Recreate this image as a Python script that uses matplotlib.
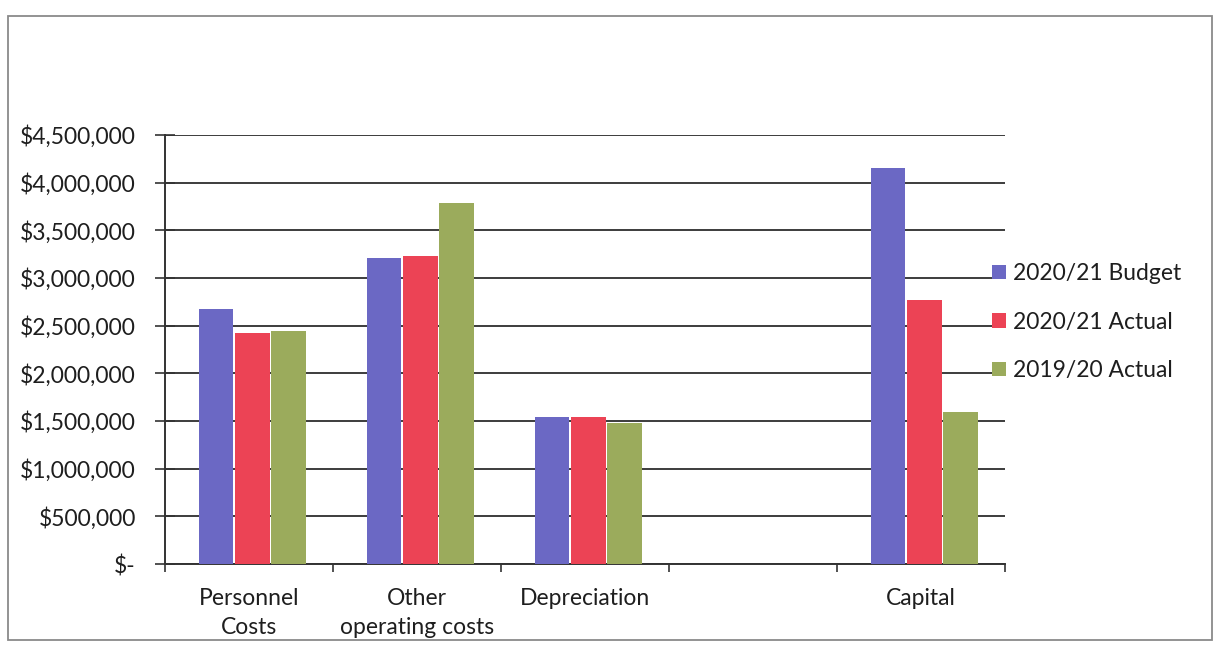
import numpy as np
import matplotlib.pyplot as plt
from matplotlib.patches import Rectangle
from matplotlib.ticker import FuncFormatter, MultipleLocator

plt.rcParams['font.family'] = ['Lato', 'DejaVu Sans']
plt.rcParams['text.color'] = '#1e1e1e'
plt.rcParams['xtick.labelcolor'] = '#1e1e1e'
plt.rcParams['ytick.labelcolor'] = '#1e1e1e'

# Expense categories (fourth slot is left blank in the chart)
categories = ['Personnel\nCosts', 'Other\noperating costs', 'Depreciation', '', 'Capital']
series_names = ['2020/21 Budget', '2020/21 Actual', '2019/20 Actual']

budget_2021 = [2675000, 3215000, 1540000, np.nan, 4150000]
actual_2021 = [2425000, 3230000, 1545000, np.nan, 2765000]
actual_2020 = [2445000, 3790000, 1478000, np.nan, 1590000]

colors = ['#6b68c4', '#ec4355', '#9bab5c']

fig = plt.figure(figsize=(12.18, 6.47), dpi=100)
ax = fig.add_axes([165 / 1218, 1 - 564 / 647, 840 / 1218, 429 / 647])

x = np.arange(len(categories))
width = 0.205
offsets = [-0.215, 0.0, 0.215]
for vals, off, col, name in zip([budget_2021, actual_2021, actual_2020], offsets, colors, series_names):
    ax.bar(x + off + 0.02, vals, width=width, color=col, label=name, zorder=3)

ax.set_xlim(-0.5, len(categories) - 0.5)
ax.set_ylim(0, 4500000)
ax.yaxis.set_major_locator(MultipleLocator(500000))


def money(v, pos):
    if v == 0:
        return '$-'
    return f'${v:,.0f}'


ax.yaxis.set_major_formatter(FuncFormatter(money))
ax.grid(axis='y', color='#3c3c3c', linewidth=1.4, zorder=0)

# category boundaries as ticks, names as minor labels
ax.set_xticks(np.arange(-0.5, len(categories)))
ax.set_xticklabels([])
ax.set_xticks(x, minor=True)
ax.set_xticklabels(categories, minor=True, fontsize=16.5, linespacing=1.5, va='top')
ax.tick_params(axis='x', which='major', length=6, width=1.2, color='#333333', direction='out')
ax.tick_params(axis='x', which='minor', length=0, pad=17)
ax.tick_params(axis='y', length=14, width=1.2, direction='inout', color='#333333',
               labelsize=16.5, pad=14)

for s in ['top', 'right']:
    ax.spines[s].set_visible(False)
ax.spines['left'].set_color('#333333')
ax.spines['left'].set_linewidth(1.4)
ax.spines['bottom'].set_color('#333333')
ax.spines['bottom'].set_linewidth(1.4)

fig.legend(loc='center left', bbox_to_anchor=(983 / 1218, 1 - 322 / 647), frameon=False,
           fontsize=16.5, handlelength=0.6, handleheight=0.6, handletextpad=0.3,
           labelspacing=1.2, borderaxespad=0)

# outer border of the chart area
fig.patches.append(Rectangle((8 / 1218, 7 / 647), 1204 / 1218, 624 / 647,
                             transform=fig.transFigure, fill=False,
                             edgecolor='#8a8a8a', linewidth=1.3))

fig.savefig('out.png', dpi=100)
